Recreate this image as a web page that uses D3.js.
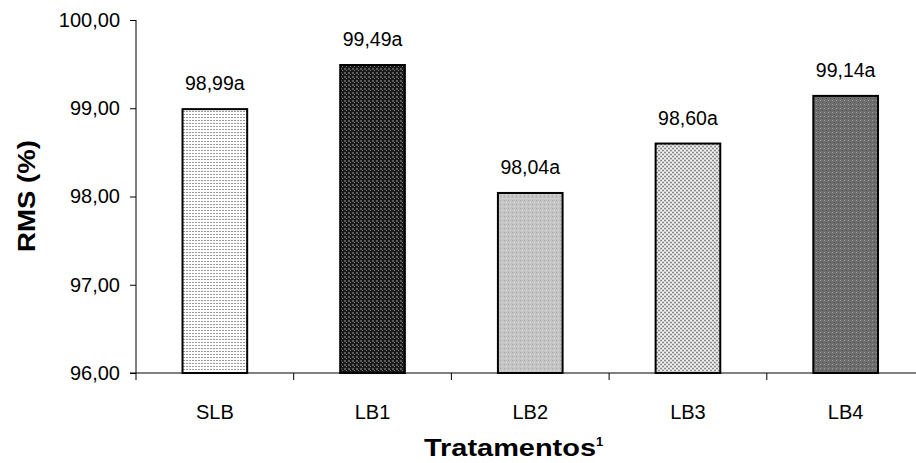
<!DOCTYPE html>
<html><head><meta charset="utf-8">
<script src="https://cdn.jsdelivr.net/npm/d3@7"></script>
<style>body{margin:0;background:#fff}svg{display:block}text{font-family:"Liberation Sans",Arial,sans-serif}</style>
</head><body><div id="chart"></div>
<script>
const categories = ["SLB","LB1","LB2","LB3","LB4"];
const values = [98.99, 99.49, 98.04, 98.60, 99.14];
const valueLabels = ["98,99a","99,49a","98,04a","98,60a","99,14a"];
const yTicks = [96, 97, 98, 99, 100];

const W = 916, H = 463;
const svg = d3.select("#chart").append("svg").attr("width", W).attr("height", H);
const defs = svg.append("defs");

function pat(id, bg, cells, size) {
  const p = defs.append("pattern").attr("id", id).attr("patternUnits","userSpaceOnUse")
    .attr("width", size).attr("height", size);
  p.append("rect").attr("width", size).attr("height", size).attr("fill", bg);
  cells.forEach(c => p.append("rect").attr("x", c[0]).attr("y", c[1]).attr("width", c[2]||1).attr("height", c[3]||1).attr("fill", c[4]));
}
pat("p0", "#ffffff", [[0,0,2,1,"#9a9a9a"]], 3);
pat("p1", "#1a1a1a", [[0,0,2,2,"#5a5a5a"],[2,2,1,1,"#777"]], 4);
pat("p2", "#c4c4c4", [[0,0,1,1,"#a8a8a8"],[2,2,1,1,"#e0e0e0"]], 4);
pat("p3", "#f4f4f4", [[0,0,2,1,"#8a8a8a"],[2,2,2,1,"#8a8a8a"],[0,1,4,1,"#d0d0d0"],[0,3,4,1,"#d0d0d0"]], 4);
pat("p4", "#6e6e6e", [[0,0,1,1,"#9a9a9a"],[2,2,1,1,"#505050"]], 4);

const x = d3.scaleBand().domain(categories).range([136, 924.5]).paddingInner(0.59).paddingOuter(0.295);
const y = d3.scaleLinear().domain([96, 100]).range([373, 20]);

// bars
svg.append("g").selectAll("rect").data(categories).join("rect")
  .attr("x", d => x(d)).attr("width", x.bandwidth())
  .attr("y", (d,i) => y(values[i])).attr("height", (d,i) => y(96) - y(values[i]))
  .attr("fill", (d,i) => `url(#p${i})`).attr("stroke", "#000").attr("stroke-width", 2);

// y axis
const ya = svg.append("g").attr("transform", "translate(136,0)")
  .call(d3.axisLeft(y).tickValues(yTicks).tickSize(6).tickPadding(10)
    .tickFormat(d => d3.format(".2f")(d).replace(".", ",")));
ya.select(".domain").attr("stroke", "#000").attr("d", "M0,20V380");
ya.selectAll(".tick line").attr("stroke", "#000");
ya.selectAll(".tick text").attr("font-size", 20).attr("fill", "#000")
  .attr("font-family", "Liberation Sans, Arial, sans-serif");

// x axis
const band = x.step();
const xa = svg.append("g").attr("transform", "translate(0,373)");
xa.append("line").attr("x1", 130).attr("x2", W).attr("stroke", "#000");
xa.selectAll(".xt").data(categories.slice(1).concat(["end"])).join("line")
  .attr("x1", (d,i) => 136 + band*(i+1)).attr("x2", (d,i) => 136 + band*(i+1))
  .attr("y1", 0).attr("y2", 7).attr("stroke", "#000");
xa.selectAll("text").data(categories).join("text")
  .attr("x", d => x(d) + x.bandwidth()/2).attr("y", 46)
  .attr("text-anchor", "middle").attr("font-size", 20).text(d => d);

// value labels
svg.append("g").selectAll("text").data(categories).join("text")
  .attr("x", d => x(d) + x.bandwidth()/2).attr("y", (d,i) => y(values[i]) - 19)
  .attr("text-anchor", "middle").attr("font-size", 19.5).attr("fill", "#000").text((d,i) => valueLabels[i]);

// axis titles
svg.append("text").attr("transform", "translate(35,196) rotate(-90)")
  .attr("text-anchor", "middle").attr("font-size", 23).attr("font-weight", "bold")
  .attr("textLength", 112).attr("lengthAdjust", "spacingAndGlyphs").text("RMS (%)");
const t = svg.append("text").attr("x", 424).attr("y", 456).attr("text-anchor", "start")
  .attr("font-size", 23).attr("font-weight", "bold");
t.append("tspan").attr("textLength", 172).attr("lengthAdjust", "spacingAndGlyphs").text("Tratamentos");
t.append("tspan").attr("dy", -10).attr("font-size", 13).text("1");
</script></body></html>
